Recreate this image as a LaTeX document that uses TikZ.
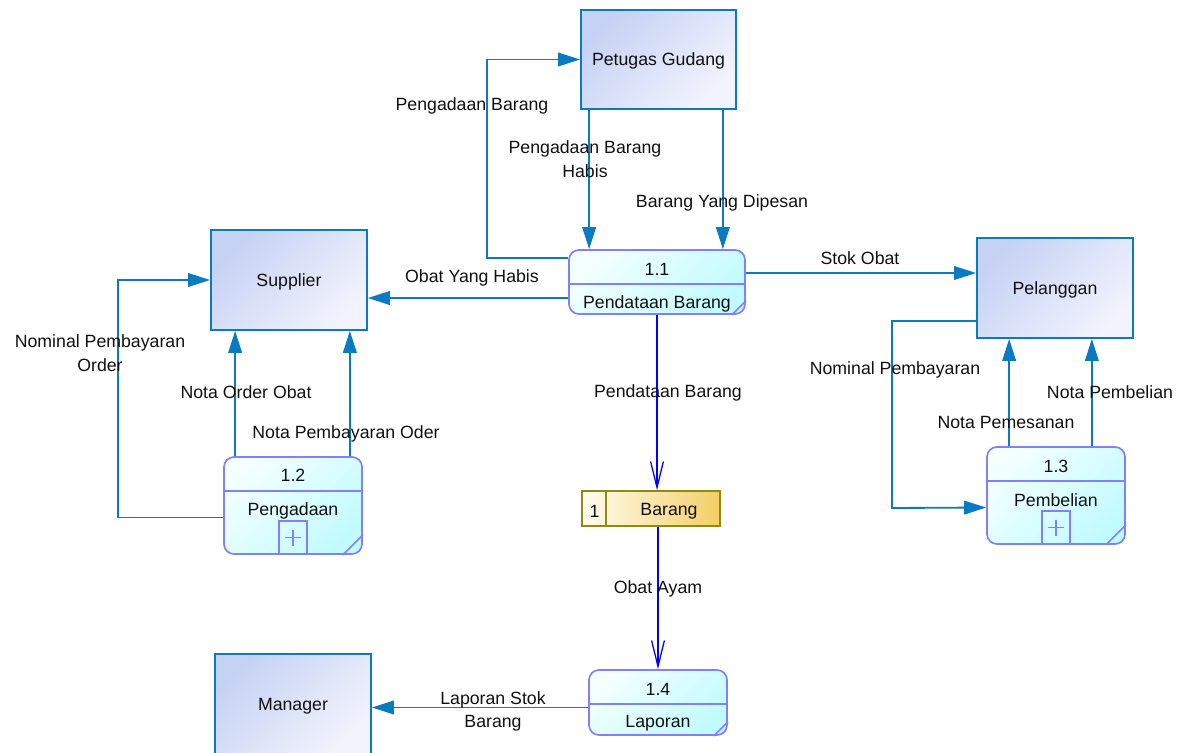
\documentclass[tikz,border=0pt]{standalone}
\usepackage{fontspec}
\setmainfont{Liberation Sans}
\usetikzlibrary{arrows.meta, positioning}
\definecolor{flowblue}{HTML}{0B7BC1}
\definecolor{entityA}{HTML}{C6D2F4}
\definecolor{entityB}{HTML}{F2F3FD}
\definecolor{procA}{HTML}{F4FFFF}
\definecolor{procB}{HTML}{C2FBFF}
\definecolor{procedge}{HTML}{8080FF}
\definecolor{storeA}{HTML}{FFFDF2}
\definecolor{storeB}{HTML}{F4CF66}
\definecolor{storeedge}{HTML}{8C8C10}
\definecolor{darkgray}{HTML}{101010}

\begin{document}
\begin{tikzpicture}[
    x=0.025cm, y=-0.025cm,
    every node/.style={font=\fontsize{12.6}{17}\selectfont, text=darkgray},
    entity/.style={rectangle, draw=flowblue, line width=1.2pt, top color=entityA, bottom color=entityB, shading angle=45, minimum width=3.9cm, minimum height=2.5cm, text depth=0pt},
    proc/.style={rectangle, rounded corners=0.25cm, draw=procedge, line width=1.2pt, top color=procA, bottom color=procB, shading angle=45, minimum width=3.45cm},
    procline/.style={draw=procedge, line width=1.2pt},
    ptext/.style={yshift=-0.06cm},
    plusbox/.style={rectangle, draw=procedge, line width=1pt, minimum width=0.7cm, minimum height=0.825cm, anchor=south},
    store/.style={rectangle, draw=storeedge, line width=1.2pt, left color=storeA, right color=storeB, minimum width=3.45cm, minimum height=0.875cm},
    flow/.style={draw=flowblue, line width=1.3pt, -{Triangle[length=0.55cm, width=0.34cm]}},
    dflow/.style={draw=blue, line width=1.3pt, -{Straight Barb[length=0.65cm, width=0.32cm, line width=0.9pt]}},
    lbl/.style={align=center, yshift=-0.06cm},
]
\useasboundingbox (0,0) rectangle (1186,752);
\clip (0,0) rectangle (1186,752);

% external entities
\node[entity, minimum width=3.875cm, minimum height=2.475cm] (pg) at (658.5,59.5) {Petugas Gudang};
\node[entity] (sup) at (289,280) {Supplier};
\node[entity] (pel) at (1055,288) {Pelanggan};
\node[entity] (man) at (293,704) {Manager};

% processes
\node[proc, minimum width=4.4cm, minimum height=1.6cm] (p11) at (657,282) {};
\draw[procline] ([yshift=-0.875cm]p11.north west) -- ([yshift=-0.875cm]p11.north east);
\node[ptext] (p11n) at ([yshift=-0.44cm]p11.north) {1.1};
\node[ptext] (p11t) at ([yshift=-1.3cm]p11.north) {Pendataan Barang};
\draw[procline] ([xshift=-0.35cm]p11.south east) -- ([yshift=0.35cm]p11.south east);

\node[proc, minimum height=2.425cm] (p12) at (293,505.5) {};
\draw[procline] ([yshift=-0.875cm]p12.north west) -- ([yshift=-0.875cm]p12.north east);
\node[ptext] (p12n) at ([yshift=-0.42cm]p12.north) {1.2};
\node[ptext] (p12t) at ([yshift=-1.3cm]p12.north) {Pengadaan};
\node[plusbox] (p12b) at (p12.south) {};
\draw[procline, line width=0.9pt] ([xshift=-0.2cm]p12b.center) -- ([xshift=0.2cm]p12b.center) ([yshift=-0.2cm]p12b.center) -- ([yshift=0.2cm]p12b.center);
\draw[procline] ([xshift=-0.5cm]p12.south east) -- ([yshift=0.5cm]p12.south east);

\node[proc, minimum height=2.425cm] (p13) at (1056,495.5) {};
\draw[procline] ([yshift=-0.875cm]p13.north west) -- ([yshift=-0.875cm]p13.north east);
\node[ptext] (p13n) at ([yshift=-0.44cm]p13.north) {1.3};
\node[ptext] (p13t) at ([yshift=-1.3cm]p13.north) {Pembelian};
\node[plusbox] (p13b) at (p13.south) {};
\draw[procline, line width=0.9pt] ([xshift=-0.2cm]p13b.center) -- ([xshift=0.2cm]p13b.center) ([yshift=-0.2cm]p13b.center) -- ([yshift=0.2cm]p13b.center);
\draw[procline] ([xshift=-0.5cm]p13.south east) -- ([yshift=0.5cm]p13.south east);

\node[proc, minimum height=1.625cm] (p14) at (658,702.5) {};
\draw[procline] ([yshift=-0.875cm]p14.north west) -- ([yshift=-0.875cm]p14.north east);
\node[ptext] (p14n) at ([yshift=-0.44cm]p14.north) {1.4};
\node[ptext] (p14t) at ([yshift=-1.28cm]p14.north) {Laporan};
\draw[procline] ([xshift=-0.35cm]p14.south east) -- ([yshift=0.35cm]p14.south east);

% data store
\node[store] (ds) at (651,508.5) {};
\draw[storeedge, line width=1.2pt] ([xshift=0.625cm]ds.north west) -- ([xshift=0.625cm]ds.south west);
\node[ptext] (dsn) at (594.5,508.5) {1};
\node[ptext] (dst) at (669,508.5) {Barang};

% waypoints
\coordinate (pgin) at ([yshift=0.6cm]p11.west);
\coordinate (k0) at ([xshift=-2.325cm]pg.west);
\coordinate (pgL) at ([xshift=0.225cm]pg.south west);
\coordinate (pgR) at ([xshift=-0.35cm]pg.south east);
\coordinate (o1) at ([yshift=-0.4cm]p11.west);
\coordinate (o2) at ([yshift=0.225cm]p11.east);
\coordinate (o3) at ([yshift=-0.125cm]p14.west);
\coordinate (n1) at ([xshift=0.3cm]p12.north west);
\coordinate (n2) at ([xshift=-0.325cm]p12.north east);
\coordinate (n3) at ([yshift=-0.3cm]p12.west);
\coordinate (k1) at (118,280);
\coordinate (m1) at ([xshift=0.575cm]p13.north west);
\coordinate (m2) at ([xshift=-0.85cm]p13.north east);
\coordinate (m3) at ([yshift=-0.825cm]pel.west);
\coordinate (m4) at ([yshift=-0.3cm]p13.west);
\coordinate (k2) at (892,508);

% flows
\draw[flow] (pgin) -| (k0) -- (pg.west);
\draw[flow] (pgL) -- (pgL |- p11.north);
\draw[flow] (pgR) -- (pgR |- p11.north);
\draw[flow] (o1) -- (o1 -| sup.east);
\draw[flow] (o2) -- (o2 -| pel.west);
\draw[dflow] (p11.south) -- (p11.south |- ds.north);
\draw[dflow] (p14.north |- ds.south) -- (p14.north);
\draw[flow] (o3) -- (o3 -| man.east);
\draw[flow] (n1) -- (n1 |- sup.south);
\draw[flow] (n2) -- (n2 |- sup.south);
\draw[flow] (n3) -| (k1) -- (sup.west);
\draw[flow] (m1) -- (m1 |- pel.south);
\draw[flow] (m2) -- (m2 |- pel.south);
\draw[flow] (m3) -| (k2) -- (m4);

% labels
\node[lbl] (l1) at (472,104) {Pengadaan Barang};
\node[lbl] (l2) at (585,157) {Pengadaan Barang\\Habis};
\node[lbl] (l3) at (722,201) {Barang Yang Dipesan};
\node[lbl] (l4) at (472,276) {Obat Yang Habis};
\node[lbl] (l5) at (860,256) {Stok Obat};
\node[lbl] (l6) at (668,391) {Pendataan Barang};
\node[lbl] (l7) at (658,587) {Obat Ayam};
\node[lbl] (l8) at (493,709) {Laporan Stok\\Barang};
\node[lbl] (l9) at (100,351) {Nominal Pembayaran\\Order};
\node[lbl] (l10) at (246,390) {Nota Order Obat};
\node[lbl] (l11) at (346,432) {Nota Pembayaran Oder};
\node[lbl] (l12) at (895,368) {Nominal Pembayaran};
\node[lbl] (l13) at (1006,420) {Nota Pemesanan};
\node[lbl] (l14) at (1110,390) {Nota Pembelian};
\end{tikzpicture}
\end{document}
